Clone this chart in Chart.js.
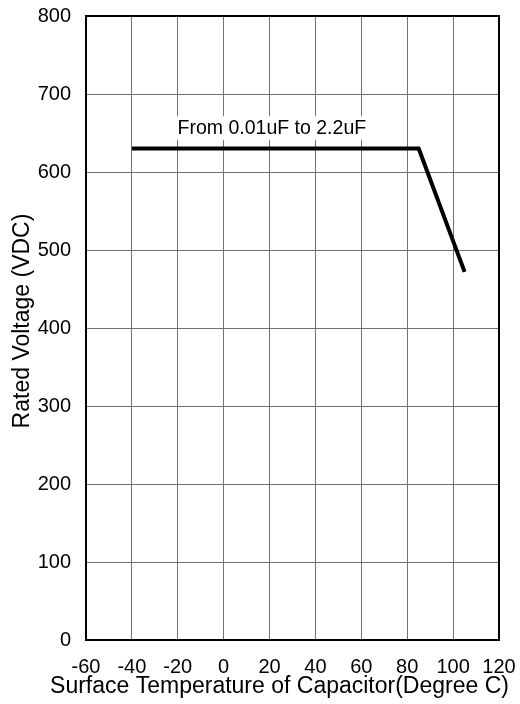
<!DOCTYPE html>
<html>
<head>
<meta charset="utf-8">
<script src="https://cdn.jsdelivr.net/npm/chart.js@4.4.1/dist/chart.umd.min.js"></script>
<style>
  html, body { margin: 0; padding: 0; background: #fff; }
  #wrap { width: 520px; height: 704px; }
</style>
</head>
<body>
<div id="wrap"><canvas id="grafico" width="520" height="704"></canvas></div>
<script>
// rated voltage vs surface temperature (derating curve)
const temperatures = [-40, 85, 105];
const voltages = [630, 630, 472];

const xTicks = [-60, -40, -20, 0, 20, 40, 60, 80, 100, 120];
const yTicks = [0, 100, 200, 300, 400, 500, 600, 700, 800];

const rangeLabel = 'From 0.01uF to 2.2uF';
const rangeLabelAt = { x: 21, y: 655 };

const xTitle = 'Surface Temperature of Capacitor(Degree C)';
const yTitle = 'Rated Voltage (VDC)';

const FONT = "'Liberation Sans', Arial, sans-serif";

// no extra room for overflowing tick labels, layout padding decides the plot box
function noLabelPadding(scale) {
  scale.paddingTop = 0;
  scale.paddingBottom = 0;
  scale.paddingLeft = 0;
  scale.paddingRight = 0;
}

// label over the flat part (white box so the grid doesn't run through it) + frame
const labelPlugin = {
  id: 'rangeLabel',
  beforeDatasetsDraw(chart) {
    const { ctx, chartArea, scales } = chart;
    const cx = scales.x.getPixelForValue(rangeLabelAt.x);
    const cy = scales.y.getPixelForValue(rangeLabelAt.y);
    ctx.save();
    ctx.font = '19.5px ' + FONT;
    const w = ctx.measureText(rangeLabel).width;
    ctx.fillStyle = '#fff';
    ctx.fillRect(cx - w / 2 - 7, cy - 13, w + 14, 24);
    ctx.fillStyle = '#000';
    ctx.textAlign = 'center';
    ctx.textBaseline = 'middle';
    ctx.fillText(rangeLabel, cx, cy);

    ctx.strokeStyle = '#000';
    ctx.lineWidth = 2;
    ctx.strokeRect(chartArea.left, chartArea.top,
      chartArea.right - chartArea.left, chartArea.bottom - chartArea.top);
    ctx.restore();
  },
  // axis titles drawn by hand: the built-in x title gets squeezed to the plot width
  afterDraw(chart) {
    const { ctx, chartArea } = chart;
    ctx.save();
    ctx.font = '23px ' + FONT;
    ctx.fillStyle = '#000';
    ctx.textAlign = 'center';
    ctx.textBaseline = 'middle';
    ctx.fillText(xTitle, (chartArea.left + chartArea.right) / 2 - 13, 687);
    ctx.translate(23, (chartArea.top + chartArea.bottom) / 2 - 7);
    ctx.rotate(-Math.PI / 2);
    ctx.fillText(yTitle, 0, 0);
    ctx.restore();
  }
};

const ctx = document.getElementById('grafico').getContext('2d');

const grafico = new Chart(ctx, {
  type: 'line',
  data: {
    datasets: [{
      data: temperatures.map((t, i) => ({ x: t, y: voltages[i] })),
      borderColor: '#000',
      borderWidth: 4,
      pointRadius: 0,
      fill: false,
      tension: 0
    }]
  },
  options: {
    responsive: false,
    animation: false,
    devicePixelRatio: 1,
    layout: { padding: { left: 0, right: 21, top: 16, bottom: 0 } },
    plugins: {
      legend: { display: false },
      tooltip: { enabled: false }
    },
    scales: {
      x: {
        type: 'linear',
        min: -60,
        max: 120,
        afterBuildTicks: (scale) => { scale.ticks = xTicks.map(v => ({ value: v })); },
        afterFit: (scale) => { scale.height = 64; noLabelPadding(scale); },
        grid: { color: '#707070', lineWidth: 1, drawTicks: false },
        border: { display: false },
        ticks: {
          color: '#000',
          padding: 15,
          maxRotation: 0,
          autoSkip: false,
          font: { family: FONT, size: 20 }
        }
      },
      y: {
        type: 'linear',
        min: 0,
        max: 800,
        afterBuildTicks: (scale) => { scale.ticks = yTicks.map(v => ({ value: v })); },
        afterFit: (scale) => { scale.width = 86; noLabelPadding(scale); },
        grid: { color: '#707070', lineWidth: 1, drawTicks: false },
        border: { display: false },
        ticks: {
          color: '#000',
          padding: 15,
          autoSkip: false,
          font: { family: FONT, size: 20 }
        }
      }
    }
  },
  plugins: [labelPlugin]
});
</script>
</body>
</html>
